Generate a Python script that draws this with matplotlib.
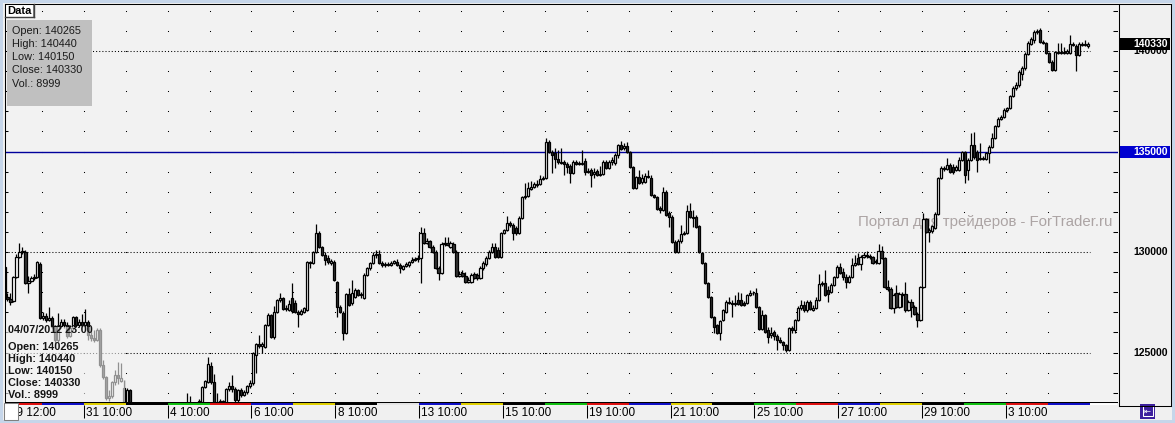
import numpy as np
import matplotlib
matplotlib.use('Agg')
import matplotlib.pyplot as plt
from matplotlib.patches import Rectangle

plt.rcParams['font.family'] = ['Liberation Sans', 'DejaVu Sans']

W, H = 1175, 423
DPI = 100

# hourly candles, 14 per session (10:00 .. 23:00), 29.05.2012 .. 04.07.2012
opens = [
    129410, 129260, 127770, 127670, 127570, 128760, 129760, 130000, 130000, 128460, 128560, 128710, 128760, 129410,
    126720, 126820, 126620, 126720, 126320, 125630, 126320, 126520, 126370, 125820, 126220, 126770, 126370, 126520,
    126370, 126520, 125870, 125730, 125630, 126120, 124380, 123780, 122740, 122840, 123540, 123880, 123590, 123240,
    122440, 123140, 122340, 122140, 121890, 121740, 121650, 121840, 122040, 121740, 121550, 121400, 121650, 121890,
    122040, 121890, 122040, 122140, 121940, 122140, 122290, 122390, 122340, 122240, 122390, 122540, 123290, 123540,
    124330, 123540, 122540, 122440, 122590, 122490, 123190, 123340, 123190, 122640, 123140, 122890, 123040, 123340,
    123490, 124880, 125430, 125330, 125280, 126370, 126870, 125780, 127020, 127620, 127720, 127170, 127120, 127720,
    127470, 127020, 126920, 127020, 127120, 129510, 129460, 130000, 130950, 130250, 129850, 129710, 129460, 129510,
    128510, 127270, 126970, 125970, 127910, 127470, 127760, 128110, 127860, 127720, 128860, 129210, 129460, 129850,
    129900, 129460, 129360, 129410, 129360, 129460, 129510, 129360, 129160, 129310, 129360, 129510, 129610, 129650,
    129700, 130950, 130450, 130550, 130250, 130000, 129210, 128960, 130400, 130450, 130250, 130400, 130000, 128810,
    128960, 128810, 128510, 128510, 128910, 128860, 128710, 129210, 129410, 129710, 130000, 130250, 130100, 129760,
    130950, 131100, 131450, 131350, 131200, 130950, 131700, 132740, 132790, 133140, 133240, 133340, 133390, 133640,
    133690, 135480, 134980, 134930, 134630, 134480, 134480, 134380, 134280, 133930, 134480, 134430, 134380, 134530,
    133980, 134080, 133880, 134030, 133830, 133880, 134480, 134180, 134480, 134430, 134830, 135330, 135180, 135280,
    134980, 134230, 133190, 133740, 133490, 133490, 133790, 133690, 132840, 132740, 132190, 132090, 132990, 131940,
    131750, 130500, 130000, 130550, 130900, 130950, 132040, 131750, 131750, 131300, 129950, 129460, 128460, 127770,
    126770, 126370, 125970, 126620, 127020, 127520, 127470, 127420, 127620, 127620, 127470, 127470, 127860, 127960,
    127960, 127270, 126170, 126870, 126120, 125870, 126020, 125820, 125630, 125530, 125380, 125130, 126220, 126120,
    126620, 127220, 127370, 127120, 127520, 127120, 127220, 127620, 128410, 128460, 128110, 128010, 128360, 128760,
    129260, 129010, 128760, 128510, 128760, 129360, 129710, 129410, 129760, 129850, 129800, 129760, 129510, 129460,
    130050, 129700, 128260, 128160, 127220, 127960, 127270, 127910, 127910, 127120, 127520, 127270, 126920, 126620,
    128260, 131650, 131000, 131050, 131200, 131890, 133690, 134180, 134130, 134330, 134230, 134080, 134080, 134580,
    134980, 134080, 134580, 135330, 134980, 134630, 134680, 134630, 134930, 135230, 135680, 136270, 136620, 136720,
    137070, 137170, 137760, 138160, 138310, 138860, 139160, 139850, 140350, 140550, 140940, 141040, 140450, 140400,
    139900, 139460, 139060, 139950, 139900, 139950, 139900, 139900, 140350, 140250, 139800, 140350, 140300, 140265,
]
highs = [
    129510, 129360, 127960, 127960, 128810, 129910, 130450, 130250, 130100, 128810, 128810, 128910, 129560, 129510,
    127020, 126970, 127270, 126820, 126370, 126970, 126670, 126670, 126520, 126370, 126820, 126820, 126670, 126920,
    127170, 126620, 126120, 126120, 126220, 126220, 124630, 123830, 123140, 123590, 124130, 124530, 124480, 123640,
    123240, 123190, 122440, 122340, 122140, 121940, 122040, 122240, 122140, 121890, 121740, 121840, 122040, 122140,
    122190, 122140, 122340, 122240, 122290, 122390, 122990, 122840, 122440, 122490, 122690, 123340, 123640, 124780,
    124530, 123930, 122990, 122690, 122640, 123240, 123540, 123880, 123290, 123190, 123240, 123140, 123390, 123640,
    125030, 125480, 125870, 125530, 126420, 126970, 126920, 127320, 127670, 127960, 127770, 127370, 127620, 128460,
    127620, 127120, 127170, 127270, 129560, 129560, 130050, 131400, 131050, 130300, 130000, 129850, 129660, 129610,
    128560, 127370, 127070, 127960, 128210, 128610, 128210, 128160, 128010, 128960, 129260, 129510, 130000, 130100,
    130100, 129560, 129510, 129510, 129560, 129610, 129660, 129460, 129360, 129510, 129560, 129760, 129760, 129850,
    131250, 131200, 130700, 130600, 130350, 130100, 129310, 130500, 130750, 130750, 130550, 130500, 130100, 129060,
    129110, 129010, 128760, 128960, 129010, 128960, 129310, 129560, 129810, 130100, 130450, 130450, 130250, 131000,
    131150, 131800, 131550, 131450, 131300, 131800, 132790, 133440, 133490, 133540, 133490, 133590, 133840, 133790,
    135680, 135580, 135080, 135180, 135080, 135180, 134580, 134480, 134380, 134580, 134580, 134530, 135080, 134680,
    134180, 134180, 134180, 134130, 134280, 134580, 134580, 134580, 134730, 134930, 135380, 135530, 135430, 135480,
    135030, 134280, 133790, 134080, 133880, 133930, 134080, 133840, 132890, 132790, 132290, 133240, 133090, 132040,
    131840, 130600, 130650, 131350, 131050, 132340, 132440, 132090, 131840, 131350, 130000, 129510, 128510, 127820,
    126820, 126420, 126620, 127170, 127620, 127770, 127620, 127860, 128010, 127960, 127570, 127910, 128110, 128060,
    128210, 127320, 127120, 126920, 126270, 126270, 126120, 125920, 125780, 125580, 125430, 126270, 126320, 126670,
    127320, 127620, 127570, 127620, 127620, 127370, 127770, 128910, 128560, 129110, 128310, 128460, 128810, 129360,
    129460, 129210, 128910, 128860, 129710, 129850, 129950, 129850, 130000, 130050, 129900, 129800, 129660, 130400,
    130300, 129760, 128610, 128260, 127960, 128360, 128010, 128010, 128510, 127620, 127670, 127370, 127020, 128310,
    131940, 131700, 131200, 131350, 131990, 133740, 134280, 134280, 134680, 134430, 134380, 134330, 134730, 135030,
    135030, 134680, 135920, 135970, 135080, 135430, 134780, 134980, 135330, 135920, 136320, 136720, 136820, 137170,
    137220, 137810, 138260, 138460, 139060, 139260, 139950, 140500, 140700, 141040, 141090, 141140, 140550, 140450,
    139950, 139560, 140000, 140400, 140400, 140200, 140100, 140800, 140450, 140350, 140450, 140450, 140550, 140440,
]
lows = [
    129210, 127720, 127570, 127370, 127520, 128710, 129710, 129900, 128410, 127960, 128510, 128610, 128710, 126670,
    126620, 126520, 126570, 126220, 125430, 125530, 126270, 126220, 125720, 125770, 126120, 126270, 126270, 126270,
    126270, 125630, 125580, 125530, 125580, 124280, 123680, 122640, 122590, 122740, 123390, 123440, 123540, 122240,
    122140, 122140, 121940, 121740, 121650, 121450, 121550, 121740, 121550, 121350, 121250, 121300, 121550, 121740,
    121740, 121790, 121940, 121740, 121840, 122040, 122140, 122190, 122090, 122190, 122240, 122490, 123240, 123490,
    123440, 122390, 122140, 122340, 122240, 122440, 123090, 123040, 122540, 122490, 122790, 122840, 122940, 123240,
    123390, 123980, 125230, 124980, 125230, 126320, 125730, 125680, 126970, 127520, 127120, 127070, 127070, 126970,
    126970, 126270, 126870, 126970, 127070, 129210, 129410, 129950, 130200, 129810, 129360, 129410, 129360, 128560,
    126770, 126970, 125630, 125920, 127320, 127370, 127720, 127810, 127720, 127670, 128810, 129110, 129410, 129710,
    129410, 129260, 129260, 129310, 129310, 129410, 129310, 128960, 129110, 129260, 129260, 129460, 129560, 129510,
    128460, 130400, 130400, 130200, 129950, 129160, 128610, 128910, 130300, 130300, 130200, 129950, 128760, 128760,
    128760, 128460, 128460, 128460, 128660, 128610, 128660, 129110, 129310, 129660, 129950, 129710, 129710, 129710,
    130900, 131050, 131250, 130600, 130850, 130900, 131650, 132640, 132740, 133090, 133190, 133240, 133340, 133590,
    133640, 134930, 133930, 134180, 134380, 134380, 133830, 133930, 133440, 133880, 134330, 134330, 134330, 133830,
    133930, 133240, 133690, 133780, 133780, 133830, 134130, 134130, 134330, 134330, 134680, 135080, 135080, 134930,
    134180, 133140, 133140, 133390, 133390, 133440, 133690, 132790, 132690, 132090, 131940, 132040, 131790, 131250,
    130450, 129950, 129950, 130450, 130850, 130900, 131700, 131250, 131200, 129950, 129410, 128410, 127720, 126720,
    125970, 125920, 125630, 126570, 126970, 127420, 126770, 127320, 127370, 127320, 127320, 127420, 127810, 127860,
    127220, 126120, 126120, 125970, 125480, 125730, 125630, 125130, 125480, 125130, 125030, 125080, 125970, 125970,
    126570, 127120, 127020, 127020, 127120, 127070, 127170, 127570, 128310, 127810, 127520, 127960, 128310, 128710,
    128910, 128610, 128210, 128460, 128710, 129310, 129360, 129110, 129710, 129710, 129660, 129410, 129410, 129410,
    129660, 128210, 128060, 127170, 126970, 127220, 127220, 127270, 127020, 127070, 126770, 126870, 126270, 126570,
    128210, 130950, 130500, 130950, 131150, 131840, 133640, 134030, 134080, 133930, 133880, 134030, 134030, 134530,
    133440, 133590, 134530, 134630, 133980, 134580, 134580, 134580, 134430, 135180, 135630, 136220, 136570, 136670,
    136970, 137120, 137710, 138060, 138210, 138560, 139060, 139800, 140300, 140400, 140840, 140400, 140350, 139850,
    139410, 139010, 139010, 139850, 139850, 139850, 139850, 139850, 140250, 139010, 139750, 140250, 140250, 140150,
]
closes = [
    129260, 127770, 127670, 127520, 128760, 129760, 130000, 130050, 128460, 128560, 128710, 128760, 129510, 126720,
    126820, 126620, 126720, 126320, 125630, 126320, 126520, 126370, 125820, 126220, 126770, 126370, 126520, 126370,
    126520, 125870, 125730, 125630, 126120, 124380, 123780, 122740, 122840, 123540, 123880, 123730, 123730, 122440,
    123140, 122340, 122140, 121890, 121740, 121650, 121840, 122040, 121740, 121550, 121400, 121650, 121890, 122040,
    121890, 122040, 122140, 121940, 122140, 122290, 122390, 122340, 122240, 122390, 122590, 123290, 123590, 124430,
    123540, 122540, 122440, 122590, 122440, 123190, 123340, 123190, 122640, 123140, 122890, 123040, 123340, 123490,
    124980, 125430, 125330, 125430, 126370, 126870, 125780, 127020, 127620, 127720, 127170, 127220, 127420, 127070,
    127020, 126920, 127070, 127220, 129510, 129460, 130000, 130950, 130250, 129850, 129610, 129510, 129560, 128610,
    127270, 127020, 125970, 127910, 127370, 127960, 128110, 127860, 127910, 128860, 129210, 129460, 129850, 129900,
    129460, 129360, 129410, 129360, 129460, 129560, 129360, 129210, 129310, 129410, 129510, 129610, 129650, 129700,
    130950, 130450, 130550, 130250, 130000, 129210, 128960, 130400, 130450, 130350, 130450, 130000, 128810, 128910,
    128810, 128510, 128610, 128860, 128710, 128710, 129210, 129460, 129710, 130000, 130250, 129760, 129760, 130950,
    131100, 131450, 131350, 130950, 130950, 131700, 132740, 132790, 133190, 133240, 133390, 133390, 133640, 133690,
    135480, 134980, 134830, 134630, 134480, 134430, 134380, 134230, 133930, 134480, 134380, 134380, 134430, 133980,
    134030, 133830, 133980, 133830, 133880, 134480, 134180, 134480, 134580, 134830, 135330, 135130, 135280, 134980,
    134230, 133190, 133740, 133440, 133690, 133790, 133740, 132840, 132740, 132140, 132090, 132990, 131840, 131750,
    130500, 130000, 130550, 130900, 130950, 132040, 131750, 131700, 131250, 130000, 129460, 128460, 127770, 126770,
    126270, 125970, 126570, 127120, 127520, 127470, 127420, 127470, 127420, 127370, 127370, 127860, 127960, 127960,
    127270, 126170, 126870, 126020, 125780, 125970, 125820, 125630, 125530, 125380, 125130, 126220, 126120, 126620,
    127220, 127370, 127120, 127520, 127170, 127220, 127620, 128410, 128460, 127860, 127910, 128360, 128760, 129260,
    128960, 128760, 128510, 128760, 129360, 129460, 129410, 129760, 129850, 129800, 129760, 129460, 129560, 130050,
    129700, 128260, 128160, 127220, 127860, 127270, 127910, 127860, 127120, 127520, 127270, 126920, 126620, 128260,
    131650, 131000, 131100, 131300, 131890, 133690, 134180, 134130, 134330, 133980, 133980, 134230, 134580, 134980,
    133830, 134580, 135330, 134730, 134580, 134680, 134630, 134930, 135230, 135680, 136270, 136620, 136720, 137070,
    137170, 137760, 138160, 138310, 138960, 139160, 139850, 140400, 140600, 140940, 140990, 140450, 140400, 139900,
    139460, 139060, 139950, 139900, 139950, 139900, 140000, 140350, 140300, 139800, 140350, 140300, 140350, 140330,
]
last_volume = 8999
last_time = '04/07/2012 23:00'

sessions = ['29', '30', '31', '1', '4', '5', '6', '7', '8', '11', '13', '14', '15',
            '18', '19', '20', '21', '22', '25', '26', '27', '28', '29', '2', '3', '4']
session_colors = ['#e01010', '#1010c8', '#e0d000', '#000000', '#10c010', '#e01010', '#1010c8',
                  '#e0d000', '#000000', '#e6e6e6', '#1010c8', '#e0d000', '#000000', '#10c010',
                  '#e01010', '#1010c8', '#e0d000', '#000000', '#10c010', '#e01010', '#1010c8',
                  '#e0d000', '#000000', '#10c010', '#e01010', '#1010c8']
per_session = 14

dotted_levels = [140000, 130000, 125000]
solid_level = 135000
axis_labels = [140000, 130000, 125000]

BG = '#f2f2f2'


def frac(x0, y0, x1, y1):
    # pixel box, origin top-left -> figure fraction
    return [x0 / W, 1 - y1 / H, (x1 - x0) / W, (y1 - y0) / H]


fig = plt.figure(figsize=(W / DPI, H / DPI), dpi=DPI)
fig.patch.set_facecolor('#f0f0f0')

# main price panel
ax = fig.add_axes(frac(5, 5, 1118, 402))
ax.set_facecolor(BG)
XMIN, XMAX = 1.17, 373.0
ax.set_xlim(XMIN, XMAX)
ax.set_ylim(122540, 142290)
ax.set_xticks([])
ax.set_yticks([])
for s in ax.spines.values():
    s.set_visible(False)

o = np.array(opens)
c = np.array(closes)
hi = np.array(highs)
lo = np.array(lows)
n = len(c)
idx = np.arange(n)
up = c >= o

# dot grid: every session boundary x every 1000 points
gx = [per_session * k - 0.5 for k in range(1, len(sessions))]
gy = np.arange(123000, 142001, 1000)
GX, GY = np.meshgrid(gx, gy)
ax.plot(GX.ravel(), GY.ravel(), ls='none', marker='s', ms=0.75, mew=0, color='black', zorder=1)

# inner ticks on both edges
ytr = ax.get_yaxis_transform()
ax.hlines(gy, 0, 0.0027, colors='black', lw=0.75, transform=ytr, zorder=2)
ax.hlines(gy, 0.9955, 1, colors='black', lw=0.75, transform=ytr, zorder=2)

for lv in dotted_levels:
    ax.hlines(lv, XMIN, n - 0.5, colors='black', lw=0.75, linestyles=(0, (1, 2)), zorder=2)
ax.axhline(solid_level, color='#00009c', lw=1.0, zorder=2)

ax.text(0.7665, 0.4534, 'Портал для трейдеров - ForTrader.ru', transform=ax.transAxes,
        ha='left', va='center', fontsize=10.8, color='#aca4a4', zorder=1.5)

# candles
ax.vlines(idx, lo, hi, colors='black', lw=0.9, zorder=3)
ax.bar(idx[up], (c - o)[up], bottom=o[up], width=0.72, color='white',
       edgecolor='black', lw=0.9, zorder=4)
ax.bar(idx[~up], (o - c)[~up], bottom=c[~up], width=0.72, color='#333333',
       edgecolor='black', lw=0.9, zorder=4)

# faded area behind the bottom-left legend
ax.add_patch(Rectangle((XMIN, 122540), 41.3 - XMIN, 126270 - 122540,
                       facecolor=BG, alpha=0.6, edgecolor='none', zorder=5))

# price labels on the right
for lv in axis_labels:
    ax.text(1.0449, lv, f'{lv}', transform=ytr, ha='right', va='center',
            fontsize=7.5, fontweight='bold', color='black', clip_on=False)
ax.add_patch(Rectangle((1.0009, solid_level - 300), 0.0458, 600, transform=ytr,
                       facecolor='#0000d0', edgecolor='none', clip_on=False, zorder=6))
ax.text(1.0449, solid_level, f'{solid_level}', transform=ytr, ha='right', va='center',
        fontsize=7.5, fontweight='bold', color='white', clip_on=False, zorder=7)
ax.add_patch(Rectangle((1.0009, closes[-1] - 300), 0.0458, 600, transform=ytr,
                       facecolor='black', edgecolor='none', clip_on=False, zorder=6))
ax.text(1.0449, closes[-1], f'{closes[-1]}', transform=ytr, ha='right', va='center',
        fontsize=7.5, fontweight='bold', color='white', clip_on=False, zorder=7)

# time strip
tx = fig.add_axes(frac(5, 402, 1118, 421))
tx.set_xlim(XMIN, XMAX)
tx.set_ylim(19, 0)
tx.axis('off')
for d, col in enumerate(session_colors):
    tx.add_patch(Rectangle((per_session * d - 0.5, 0.6), per_session, 2.6,
                           facecolor=col, edgecolor='none'))
tx.add_patch(Rectangle((n - 0.5, 0.6), XMAX - n, 2.6, facecolor='white', edgecolor='none'))
tx.axhline(0.3, color='black', lw=0.75)
tick_pos = [2] + [per_session * d - 0.5 for d in range(2, len(sessions), 2)]
tick_txt = [f'{sessions[0]} 12:00'] + [f'{sessions[d]} 10:00' for d in range(2, len(sessions), 2)]
for xp, t in zip(tick_pos, tick_txt):
    tx.vlines(xp, 3.2, 16, colors='black', lw=0.75)
    tx.text(xp + 0.8, 10.5, t, ha='left', va='center', fontsize=8.5, color='black')

# window chrome (pixel coordinates)
ov = fig.add_axes([0, 0, 1, 1])
ov.set_xlim(0, W)
ov.set_ylim(H, 0)
ov.axis('off')
ov.patch.set_visible(False)
blue = '#c6d6ea'
ov.add_patch(Rectangle((0, 0), W, 3, facecolor=blue, edgecolor='none'))
ov.add_patch(Rectangle((0, 420), W, 3, facecolor=blue, edgecolor='none'))
ov.add_patch(Rectangle((1172, 0), 3, H, facecolor=blue, edgecolor='none'))
ov.add_patch(Rectangle((0, 0), 3, H, facecolor=blue, edgecolor='none'))
lw = 0.75
ov.plot([4.5, 1170.5], [4.5, 4.5], color='black', lw=lw)
ov.plot([4.5, 4.5], [4.5, 402], color='black', lw=lw)
ov.plot([1118.5, 1118.5], [4.5, 406.5], color='black', lw=lw)
ov.plot([1170.5, 1170.5], [4.5, 406.5], color='black', lw=lw)
ov.plot([1118.5, 1170.5], [406.5, 406.5], color='black', lw=lw)

# "Data" button
ov.add_patch(Rectangle((5, 4), 28, 13, facecolor='white', edgecolor='#808080', lw=0.75))
ov.plot([33.5, 33.5], [4, 17.5], color='#404040', lw=1.0)
ov.plot([5, 33.5], [17.5, 17.5], color='#404040', lw=1.0)
ov.text(7, 11, 'Data', ha='left', va='center', fontsize=8, fontweight='bold', color='black')

# info box top-left
ov.add_patch(Rectangle((7, 20), 85, 86, facecolor='#c0c0c0', edgecolor='none'))
info = [f'Open: {opens[-1]}', f'High: {highs[-1]}', f'Low: {lows[-1]}',
        f'Close: {closes[-1]}', f'Vol.: {last_volume}']
for k, t in enumerate(info):
    ov.text(12, 30.5 + 13.3 * k, t, ha='left', va='center', fontsize=7.8, color='#1a1a1a')

# legend bottom-left
leg = [last_time] + info
leg_y = [330, 346.5, 358.5, 370.5, 382.5, 394.5]
for t, yy in zip(leg, leg_y):
    ov.text(8, yy, t, ha='left', va='center', fontsize=7.8, fontweight='bold', color='#141414')

# small buttons at the bottom
ov.add_patch(Rectangle((4, 403), 14, 17, facecolor='white', edgecolor='#808080', lw=0.75))
ov.add_patch(Rectangle((1140, 404), 15, 15, facecolor='#3c1e9e', edgecolor='none'))
ov.add_patch(Rectangle((1142.5, 406.5), 10, 10, facecolor='none', edgecolor='white', lw=0.75))
ov.text(1147.5, 411.5, '⇤', ha='center', va='center', fontsize=6, color='white',
        family=['DejaVu Sans'])

fig.savefig('out.png', dpi=DPI, facecolor=fig.get_facecolor())
